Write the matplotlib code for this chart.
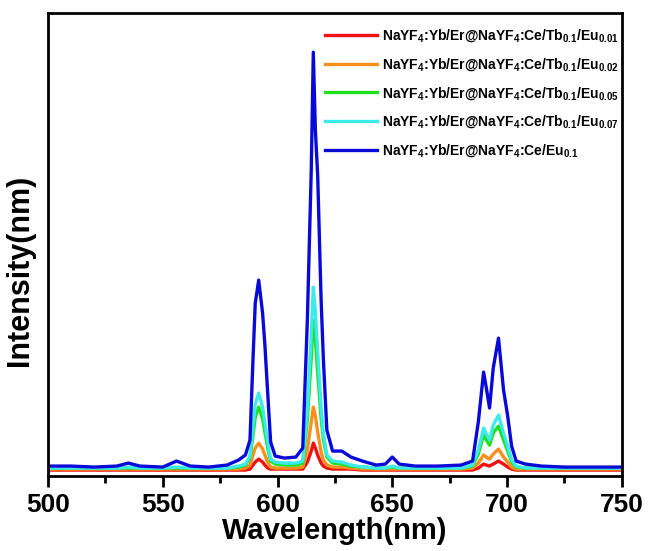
import matplotlib
matplotlib.use('Agg')
import matplotlib.pyplot as plt
from matplotlib.ticker import MultipleLocator

plt.rcParams['font.family'] = ['Liberation Sans', 'DejaVu Sans']
plt.rcParams['font.weight'] = 'bold'
plt.rcParams['mathtext.fontset'] = 'custom'
plt.rcParams['mathtext.rm'] = 'Liberation Sans:bold'
plt.rcParams['mathtext.bf'] = 'Liberation Sans:bold'
plt.rcParams['mathtext.default'] = 'bf'

# shared wavelength grid (nm)
wl = [500, 510, 520, 530, 535, 540, 550, 556, 562, 570,
      578, 583, 586, 588, 589.3, 590.3, 591.8, 593.5, 594.5, 595.7,
      597, 599, 603, 608, 611, 613, 614.7, 615.6, 616.5, 617.5,
      619, 620, 621.5, 624, 628, 632, 637, 643, 647, 650,
      653, 660, 670, 680, 685, 687.5, 689.8, 691, 692.4, 694,
      696.3, 698.5, 700.3, 702, 704, 708, 715, 725, 740, 750]

eu001 = [0, 0, 0, 0, 0, 0, 0, 0, 0, 0,
         0, 0, 0, 1, 5, 8, 11, 8, 5, 2,
         1, 1, 1, 1, 1, 8, 19, 27, 22, 15,
         7, 4, 2, 1, 1, 1, 0, 0, 0, 0,
         0, 0, 0, 0, 0, 2, 6, 5, 4, 6,
         9, 6, 3, 1, 0, 0, 0, 0, 0, 0]

eu002 = [1, 1, 1, 1, 1, 1, 1, 1, 1, 1,
         1, 1, 2, 5, 15, 22, 27, 21, 15, 8,
         3, 2, 2, 2, 3, 20, 48, 63, 54, 38,
         18, 10, 5, 3, 3, 2, 1, 1, 1, 1,
         1, 1, 1, 1, 2, 7, 15, 13, 11, 16,
         21, 13, 8, 3, 1, 1, 1, 1, 1, 1]

eu005 = [2, 2, 2, 2, 2, 2, 2, 2, 2, 2,
         2, 3, 5, 12, 34, 53, 63, 51, 38, 22,
         9, 6, 5, 5, 7, 50, 112, 150, 130, 97,
         52, 30, 13, 7, 6, 4, 3, 2, 2, 3,
         2, 2, 2, 2, 4, 16, 35, 30, 25, 37,
         44, 30, 19, 8, 3, 2, 2, 2, 2, 2]

eu007 = [2, 2, 2, 2, 3, 2, 2, 3, 2, 2,
         2, 4, 6, 14, 43, 66, 77, 63, 47, 28,
         11, 8, 7, 7, 9, 60, 135, 183, 158, 118,
         63, 36, 15, 9, 8, 5, 3, 2, 2, 4,
         2, 2, 2, 2, 5, 20, 42, 36, 30, 45,
         55, 37, 24, 10, 4, 2, 2, 2, 2, 2]

eu01 = [4, 4, 3, 4, 7, 4, 3, 9, 4, 3,
        5, 10, 15, 30, 110, 167, 190, 157, 125, 78,
        28, 14, 12, 13, 22, 150, 300, 418, 340, 295,
        170, 110, 40, 19, 19, 13, 9, 5, 6, 13,
        6, 4, 4, 5, 9, 48, 98, 82, 62, 102,
        132, 80, 54, 24, 9, 6, 4, 3, 3, 3]

labels = [r'NaYF$_4$:Yb/Er@NaYF$_4$:Ce/Tb$_{0.1}$/Eu$_{0.01}$',
          r'NaYF$_4$:Yb/Er@NaYF$_4$:Ce/Tb$_{0.1}$/Eu$_{0.02}$',
          r'NaYF$_4$:Yb/Er@NaYF$_4$:Ce/Tb$_{0.1}$/Eu$_{0.05}$',
          r'NaYF$_4$:Yb/Er@NaYF$_4$:Ce/Tb$_{0.1}$/Eu$_{0.07}$',
          r'NaYF$_4$:Yb/Er@NaYF$_4$:Ce/Eu$_{0.1}$']
colors = ['#f01010', '#f7901e', '#20e020', '#3ceaea', '#0a0ad8']
series = [eu001, eu002, eu005, eu007, eu01]

fig = plt.figure(figsize=(6.49, 5.51), dpi=100)
ax = fig.add_axes([0.074, 0.136, 0.884, 0.840])

for y, c, lab in zip(series, colors, labels):
    ax.plot(wl, y, color=c, lw=2.4, label=lab)

ax.set_xlim(500, 750)
ax.set_ylim(-6, 457)
ax.xaxis.set_major_locator(MultipleLocator(50))
ax.xaxis.set_minor_locator(MultipleLocator(25))
ax.tick_params(axis='x', which='major', direction='out', length=8, width=2,
               labelsize=19, pad=4)
ax.tick_params(axis='x', which='minor', direction='out', length=5, width=2)
ax.set_yticks([])
for s in ax.spines.values():
    s.set_linewidth(2)

ax.set_xlabel('Wavelength(nm)', fontsize=21, fontweight='bold', labelpad=0)
ax.set_ylabel('Intensity(nm)', fontsize=22, fontweight='bold')
ax.yaxis.set_label_coords(-0.022, 0.445)

ax.legend(loc='upper right', bbox_to_anchor=(1.0, 0.975), frameon=False,
          fontsize=10, handlelength=3.8, handletextpad=0.35,
          labelspacing=0.85, borderpad=0.2, borderaxespad=0.0)

fig.savefig('out.png', dpi=100)
